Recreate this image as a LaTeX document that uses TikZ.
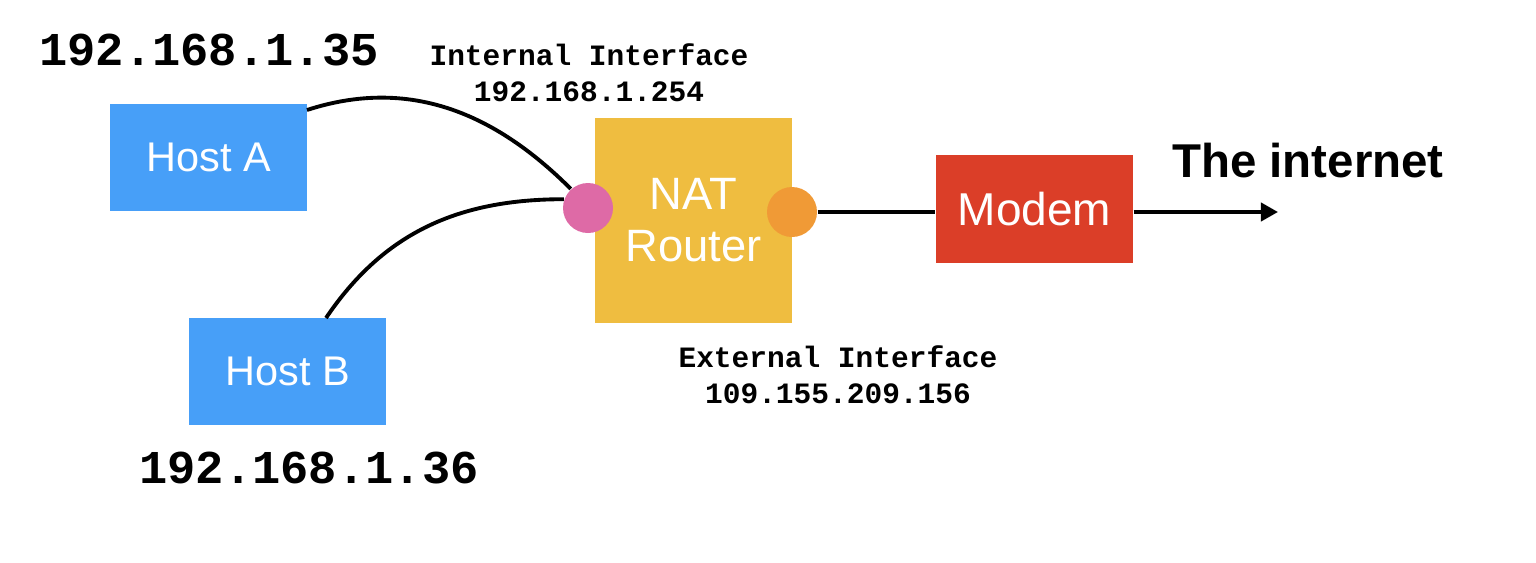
\documentclass[tikz,border=0pt]{standalone}
\usepackage{fontspec}
\setmainfont{Liberation Sans}
\setmonofont{Liberation Mono}
\usetikzlibrary{arrows.meta}
\definecolor{hostblue}{HTML}{479FF8}
\definecolor{routeryellow}{HTML}{EFBD40}
\definecolor{modemred}{HTML}{DB3E28}
\definecolor{portpink}{HTML}{DE6AA6}
\definecolor{portorange}{HTML}{F09A36}
\begin{document}
\begin{tikzpicture}[
                box/.style={
                    rectangle,
                    minimum width=1.97cm,
                    minimum height=1.07cm,
                    align=center,
                    inner sep=0pt,
                    text=white,
                    font=\fontsize{12.5}{14.5}\selectfont
                },
                hostbox/.style={
                    box,
                    fill=hostblue,
                    font=\fontsize{11.8}{14}\selectfont
                },
                routerbox/.style={
                    box,
                    fill=routeryellow,
                    minimum height=2.05cm,
                    font=\fontsize{12.9}{14.7}\selectfont
                },
                modembox/.style={
                    box,
                    fill=modemred,
                    minimum height=1.08cm,
                    font=\fontsize{13.1}{15}\selectfont
                },
                port/.style={
                    circle,
                    minimum size=0.5cm,
                    inner sep=0pt
                },
                ipaddr/.style={
                    font=\ttfamily\bfseries\fontsize{13.4}{15}\selectfont,
                    anchor=base
                },
                ifacelabel/.style={
                    font=\ttfamily\bfseries\fontsize{8.4}{10.3}\selectfont,
                    align=center
                },
                link/.style={
                    line width=1.1pt
                },
                uplink/.style={
                    link,
                    -{Triangle[length=4.9pt,width=5.2pt]}
                }
            ]
                \useasboundingbox (0,0) rectangle (15.36,5.62);

                \node[hostbox] (hostA) at (2.085,4.045) {Host A};
                \node[hostbox] (hostB) at (2.875,1.905) {Host B};
                \node[routerbox] (router) at (6.935,3.42) {NAT\\Router};
                \node[modembox] (modem) at (10.345,3.53) {Modem};

                \node[port, fill=portpink] (inport) at (5.88,3.54) {};
                \node[port, fill=portorange] (export) at (7.92,3.50) {};

                \node[ipaddr] (ipA) at (2.09,4.97) {192.168.1.35};
                \node[ipaddr] (ipB) at (3.09,0.79) {192.168.1.36};
                \node[ifacelabel] (inlabel) at (5.89,4.89) {Internal Interface\\192.168.1.254};
                \node[ifacelabel] (exlabel) at (8.38,1.87) {External Interface\\109.155.209.156};
                \node[font=\bfseries\fontsize{13.5}{15}\selectfont, anchor=base] (internet) at (13.08,3.85) {The internet};

                \coordinate (hostAout) at (3.07,4.52);
                \coordinate (hostBout) at (3.26,2.44);
                \coordinate (cloud) at (12.78,3.50);

                \draw[link] (hostAout) to[out=18, in=135] (inport.132);
                \draw[link] (hostBout) to[out=56, in=180] (inport.160);
                \draw[link] (export) -- (export -| modem.west);
                \draw[uplink] (modem.east |- cloud) -- (cloud);
        \end{tikzpicture}
\end{document}
